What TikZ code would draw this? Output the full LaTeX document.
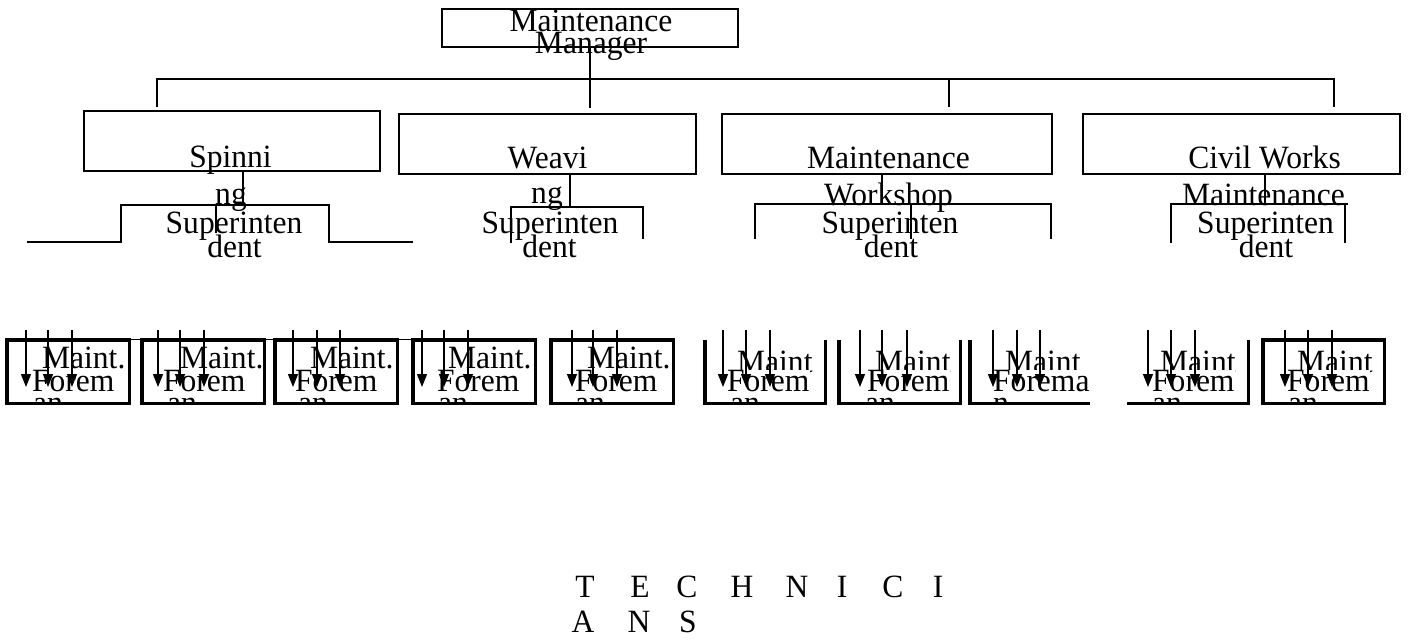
\documentclass[tikz,border=0pt]{standalone}
\usepackage{fontspec}
\setmainfont{Liberation Serif}[FakeStretch=0.97]
\usetikzlibrary{arrows.meta}
\begin{document}
\begin{tikzpicture}[x=1pt,y=-1pt,
  txt/.style={anchor=base,inner sep=0pt,font=\fontsize{32.5}{23}\selectfont},
  ltxt/.style={txt,anchor=base west},
  cover/.style={ltxt,fill=white},
  unitbox/.style={draw,line width=2.3pt,inner sep=0pt},
  slot/.style={inner sep=0pt},
  link/.style={line width=1.9pt},
  thin/.style={line width=1.2pt},
  fbox/.style={line width=3.4pt},
  down/.style={line width=1.3pt,-{Triangle[width=10pt,length=13pt]}},
]
\useasboundingbox (0,0) rectangle (1427,640);

% ---------- manager ----------
\node[txt] (mgrA) at (591,31) {Maintenance};
\node[txt] (mgrB) at (591,53) {Manager};
\node[unitbox,minimum width=296pt,minimum height=38pt] (mgr) at (590,28) {};

% ---------- bus ----------
\coordinate (busL) at (157,79);
\coordinate (busR) at (1334,79);
\coordinate (busM) at (949,79);
\draw[link] (mgr.south) -- (590,108);
\draw[link] (157,107) -- (busL) -- (busR) -- (1334,107);
\draw[link] (busM) -- (949,107);

% ---------- superintendents ----------
\node[unitbox,minimum width=296pt,minimum height=60pt] (spin) at (232,141) {};
\node[unitbox,minimum width=297pt,minimum height=60pt] (weav) at (547.5,144) {};
\node[unitbox,minimum width=330pt,minimum height=60pt] (shop) at (887,144) {};
\node[unitbox,minimum width=317pt,minimum height=60pt] (civil) at (1241.5,144) {};

\node[txt] at (230.5,167) {Spinni};
\node[txt] at (231,204) {ng};
\node[txt] at (234,233) {Superinten};
\node[txt] at (234.5,257) {dent};

\node[txt] at (547.5,168) {Weavi};
\node[txt] at (547,203) {ng};
\node[txt] at (550,233) {Superinten};
\node[txt] at (549.5,257) {dent};

\node[txt] at (888.5,168) {Maintenance};
\node[txt] at (888.5,205) {Workshop};
\node[txt] at (890,233) {Superinten};
\node[txt] at (891,257) {dent};

\node[txt] at (1264.5,168) {Civil Works};
\node[txt] at (1263.5,205) {Maintenance};
\node[txt] at (1265.5,233) {Superinten};
\node[txt] at (1266,257) {dent};

% stubs and brackets under each superintendent
\draw[link] (243,171) -- (243,205);
\draw[link] (27,242) -- (121,242) -- (121,205) -- (329,205) -- (329,242) -- (413,242);
\draw[thin] (216,205) -- (216,233);

\draw[link] (570,174) -- (570,207);
\draw[link] (511,243) -- (511,207) -- (643,207) -- (643,239);

\draw[link] (882,174) -- (882,204);
\draw[link] (755,239) -- (755,204) -- (1051,204) -- (1051,239);
\draw[thin] (911,204) -- (911,239);

\draw[link] (1265,174) -- (1265,204);
\draw[link] (1171,243) -- (1171,204) -- (1348,204);
\draw[link] (1345,204) -- (1345,243);

% ---------- foremen ----------
\foreach \i/\l/\r in {1/7/129,2/142/264,3/275/397,4/413/535,5/551/673,
                      6/705/825,7/839/960,8/970/1090,9/1127/1248,10/1263/1384}
  \node[slot,minimum width={(\r-\l)*1pt},minimum height=63pt] (f\i) at ({(\l+\r)/2},371.5) {};

\begin{scope}
  \clip (0,300) rectangle (1427,402);
  \foreach \x/\h/\y/\z/\p/\q/\s in {42/368/32/33/Maint./Forem/an, 180/368/163/167/Maint./Forem/an,
      310/368/295/298/Maint./Forem/an, 448/368/437/438/Maint./Forem/an, 587/368/575/575/Maint./Forem/an,
      737/372/727/730/Maint/Forem/an, 875/372/867/865/Maint/Forem/an, 1005/372/993/993/Maint/Forema/n,
      1160/372/1152/1152/Maint/Forem/an, 1297/372/1287/1288/Maint/Forem/an}{
    \node[ltxt] at (\x,\h) {\p};
    \node[ltxt] at (\z,413) {\s};
    \node[cover] at (\y,391) {\q};
  }
\end{scope}

\foreach \i in {1,2,3,4,5,10}
  \draw[fbox] (f\i.north west) rectangle (f\i.south east);
\draw[fbox] (f6.north west) -- (f6.south west) -- (f6.south east) -- (f6.north east);
\draw[fbox] (f7.north west) -- (f7.south west) -- (f7.south east) -- (f7.north east);
\draw[fbox] (f8.north west) -- (f8.south west) -- (f8.south east);
\draw[fbox] (f9.south west) -- (f9.south east) -- (f9.north east);
\draw[thin] (f1.north east) -- (f4.north west);

\foreach \x in {26,48,72, 158,180,204, 293,317,340, 422,444,468, 572,593,617,
                723,746,770, 860,882,907, 993,1017,1040, 1148,1171,1195, 1285,1308,1332}
  \draw[down] (\x,330) -- (\x,387);

% ---------- technicians ----------
\foreach \c/\x in {T/585,E/640,C/687,H/742,N/797,I/842,C/893,I/938}
  \node[txt] at (\x,597) {\c};
\foreach \c/\x in {A/583,N/639,S/688}
  \node[txt] at (\x,632) {\c};
\end{tikzpicture}
\end{document}
